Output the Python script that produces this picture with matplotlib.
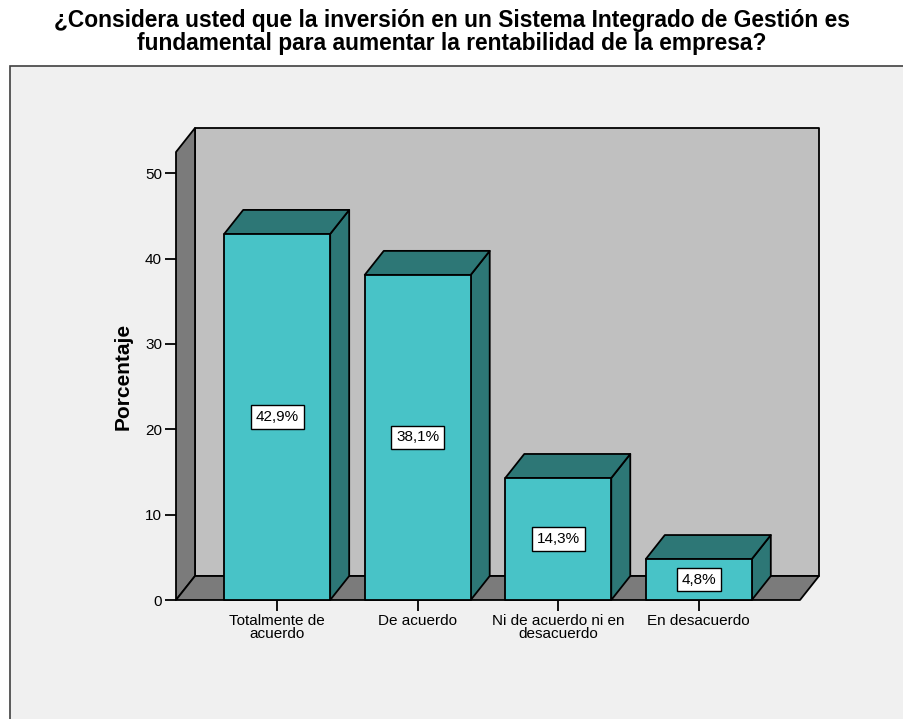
import numpy as np
import matplotlib.pyplot as plt
from matplotlib.patches import Polygon, Rectangle
plt.switch_backend('agg')

# data
categorias = ['Totalmente de\nacuerdo', 'De acuerdo', 'Ni de acuerdo ni en\ndesacuerdo', 'En desacuerdo']
porcentajes = [42.9, 38.1, 14.3, 4.8]
etiquetas = ['42,9%', '38,1%', '14,3%', '4,8%']
titulo = u'¿Considera usted que la inversión en un Sistema Integrado de Gestión es\nfundamental para aumentar la rentabilidad de la empresa?'

plt.rcParams['font.family'] = ['Liberation Sans', 'DejaVu Sans']

W, H = 904, 719
fig = plt.figure(figsize=(W/100, H/100), dpi=100, facecolor='white')

# light gray panel with frame
fig.patches.append(Rectangle((10/W, -0.01), 1.0, (H-66)/H+0.01, transform=fig.transFigure,
                             facecolor='#F0F0F0', edgecolor='#404040', lw=1.2, zorder=-10))

fig.text(452/W, 1-32/H, titulo, ha='center', va='center', fontsize=16.4,
         fontweight='bold', linespacing=0.98)

# axes placed by pixel position of the front floor / front wall edge
left_px, right_px, bot_px, top_px = 176, 800, 600, 152
ax = fig.add_axes([left_px/W, 1-bot_px/H, (right_px-left_px)/W, (bot_px-top_px)/H])
ax.patch.set_alpha(0)
x0, x1 = -0.72, 3.72
ymax = 52.5
ax.set_xlim(x0, x1)
ax.set_ylim(0, ymax)

# depth offsets in data units
px_x = (x1-x0)/(right_px-left_px)
px_y = ymax/(bot_px-top_px)
dx = 19*px_x
dy = 24*px_y

gris_claro = '#C0C0C0'
gris_osc = '#7B7B7B'
frente = '#48C3C7'
oscuro = '#2D7776'
lw = 1.3

def poly(pts, fc, z):
    ax.add_patch(Polygon(pts, closed=True, facecolor=fc, edgecolor='black', lw=lw,
                         clip_on=False, zorder=z, joinstyle='round'))

# back wall, left wall, floor
poly([(x0+dx, dy), (x1+dx, dy), (x1+dx, ymax+dy), (x0+dx, ymax+dy)], gris_claro, 1)
poly([(x0, 0), (x0+dx, dy), (x0+dx, ymax+dy), (x0, ymax)], gris_osc, 2)
poly([(x0, 0), (x1, 0), (x1+dx, dy), (x0+dx, dy)], gris_osc, 2)

ancho = 0.754
xs = np.arange(len(porcentajes))
for i, v in zip(xs, porcentajes):
    a, b = i-ancho/2, i+ancho/2
    poly([(b, 0), (b+dx, dy), (b+dx, v+dy), (b, v)], oscuro, 3)
    poly([(a, v), (a+dx, v+dy), (b+dx, v+dy), (b, v)], oscuro, 3)
    poly([(a, 0), (b, 0), (b, v), (a, v)], frente, 4)

for i, v, t in zip(xs, porcentajes, etiquetas):
    ax.text(i, v/2, t, ha='center', va='center', fontsize=11, zorder=6,
            bbox=dict(boxstyle='square,pad=0.32', facecolor='white', edgecolor='black', lw=1))

for s in ax.spines.values():
    s.set_visible(False)
ax.set_xticks(xs)
ax.set_xticklabels(categorias, fontsize=11, linespacing=0.95)
ax.set_yticks(np.arange(0, 51, 10))
ax.tick_params(axis='both', length=8, width=1.3, color='black', labelsize=11, pad=2)
ax.set_ylabel('Porcentaje', fontsize=15, fontweight='bold', labelpad=9)

fig.savefig('out.png', dpi=100)
